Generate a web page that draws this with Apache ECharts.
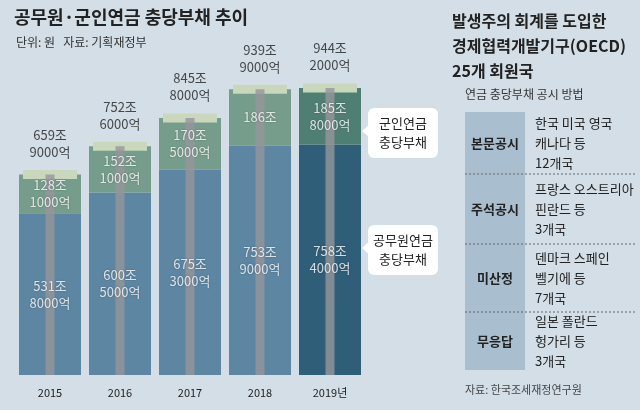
<!DOCTYPE html>
<html><head><meta charset="utf-8">
<script src="https://cdn.jsdelivr.net/npm/echarts@6/dist/echarts.min.js"></script>
<style>html,body{margin:0;padding:0;background:#d3dee6}#c{width:640px;height:410px}</style>
</head><body><div id="c"></div>
<script>
var years = ['2015', '2016', '2017', '2018', '2019년'];
var civil = [531.8, 600.5, 675.3, 753.9, 758.4];
var military = [128.1, 152.1, 170.5, 186.0, 185.8];
var civilLabels = ['531조\n8000억', '600조\n5000억', '675조\n3000억', '753조\n9000억', '758조\n4000억'];
var militaryLabels = ['128조\n1000억', '152조\n1000억', '170조\n5000억', '186조', '185조\n8000억'];
var totalLabels = ['659조\n9000억', '752조\n6000억', '845조\n8000억', '939조\n9000억', '944조\n2000억'];
var rows = [
  ['본문공시', '한국 미국 영국\n캐나다 등\n12개국'],
  ['주석공시', '프랑스 오스트리아\n핀란드 등\n3개국'],
  ['미산정', '덴마크 스페인\n벨기에 등\n7개국'],
  ['무응답', '일본 폴란드\n헝가리 등\n3개국']
];

var font = '"Noto Sans CJK KR", sans-serif';
var totals = civil.map(function (v, i) { return +(v + military[i]).toFixed(1); });
// 라벨 위치 (각 구간 가운데)
var civilMid = civil.map(function (v, i) { return [i, v / 2]; });
var militaryMid = civil.map(function (v, i) { return [i, v + military[i] / 2]; });
var myChart = echarts.init(document.getElementById('c'));

var g = [
  {type: 'text', left: 14, top: 8, style: {text: '공무원·군인연금 충당부채 추이', font: 'bold 18px ' + font, fill: '#222'}},
  {type: 'text', left: 16, top: 36, style: {text: '단위: 원   자료: 기획재정부', font: '12px ' + font, fill: '#333'}},
  {type: 'text', left: 452, top: 8, style: {text: '발생주의 회계를 도입한\n경제협력개발기구(OECD)\n25개 회원국', font: 'bold 16px ' + font, lineHeight: 25, fill: '#222'}},
  {type: 'text', left: 465, top: 88, style: {text: '연금 충당부채 공시 방법', font: '12px ' + font, fill: '#333'}},
  {type: 'rect', shape: {x: 465, y: 112, width: 60, height: 258}, style: {fill: '#a9bfd0'}},
  {type: 'text', left: 465, top: 384, style: {text: '자료: 한국조세재정연구원', font: '11px ' + font, fill: '#444'}}
];
var rowH = [[112, 174], [174, 244], [244, 312], [312, 370]];
rows.forEach(function (r, i) {
  var y0 = rowH[i][0], y1 = rowH[i][1], mid = (y0 + y1) / 2;
  g.push({type: 'text', x: 495, y: mid, style: {text: r[0], font: 'bold 13px ' + font, fill: '#222', align: 'center', verticalAlign: 'middle'}});
  g.push({type: 'text', x: 535, y: mid, style: {text: r[1], font: '13px ' + font, lineHeight: 20, fill: '#222', verticalAlign: 'middle'}});
  if (i > 0) g.push({type: 'line', shape: {x1: 465, y1: y0, x2: 635, y2: y0}, style: {stroke: '#666', lineDash: [2, 2], lineWidth: 1}});
});
[[368, 108, '군인연금\n충당부채'], [368, 225, '공무원연금\n충당부채']].forEach(function (c) {
  g.push({type: 'polygon', shape: {points: [[c[0] + 2, c[1] + 16], [c[0] - 6, c[1] + 23], [c[0] + 2, c[1] + 30]]}, style: {fill: '#fff'}});
  g.push({type: 'rect', shape: {x: c[0], y: c[1], width: 70, height: 50, r: 6}, style: {fill: '#fff'}});
  g.push({type: 'text', x: c[0] + 35, y: c[1] + 25, style: {text: c[2], font: '13px ' + font, lineHeight: 19, fill: '#222', align: 'center', verticalAlign: 'middle'}});
});

var inLabel = function (arr) {
  return {show: true, position: 'inside', color: '#fff', fontSize: 13, fontFamily: font, lineHeight: 17,
    textShadowColor: 'rgba(0,0,0,0.35)', textShadowBlur: 2,
    formatter: function (p) { return arr[p.dataIndex]; }};
};

var option = {
  backgroundColor: '#d3dee6',
  animation: false,
  grid: {left: 15, right: 275, top: 71, bottom: 35},
  xAxis: {
    type: 'category', data: years,
    axisLine: {show: false}, axisTick: {show: false},
    axisLabel: {color: '#222', fontSize: 11, fontFamily: font, margin: 12}
  },
  yAxis: {type: 'value', min: 0, max: 1000, show: false},
  series: [
    {
      name: '공무원', type: 'bar', stack: 'a', barWidth: 62, data: civil, z: 1,
      itemStyle: {color: function (p) { return p.dataIndex === 4 ? '#2f5e78' : '#5d86a2'; }}
    },
    {
      name: '군인', type: 'bar', stack: 'a', barWidth: 62, data: military, z: 1,
      itemStyle: {color: function (p) { return p.dataIndex === 4 ? '#4f7f72' : '#769d8c'; }}
    },
    {
      name: '띠', type: 'pictorialBar', symbol: 'rect', symbolSize: [9, '100%'], data: totals, z: 3,
      itemStyle: {color: 'rgba(150,150,155,0.8)'}, silent: true
    },
    {
      name: '뚜껑', type: 'pictorialBar', symbol: 'rect', symbolSize: [54, 9], symbolPosition: 'end',
      symbolOffset: [0, '-50%'], data: totals, z: 2,
      itemStyle: {color: '#c9d7bd'}, silent: true
    },
    {name: '공무원라벨', type: 'scatter', data: civilMid, symbolSize: 0, z: 6, label: inLabel(civilLabels)},
    {name: '군인라벨', type: 'scatter', data: militaryMid, symbolSize: 0, z: 6, label: inLabel(militaryLabels)},
    {
      name: '합계', type: 'scatter', data: totals, symbolSize: 0, z: 6,
      label: {show: true, position: 'top', distance: 14, color: '#222', fontSize: 13, fontFamily: font, lineHeight: 17,
        formatter: function (p) { return totalLabels[p.dataIndex]; }}
    }
  ],
  graphic: g
};
myChart.setOption(option);
</script></body></html>
